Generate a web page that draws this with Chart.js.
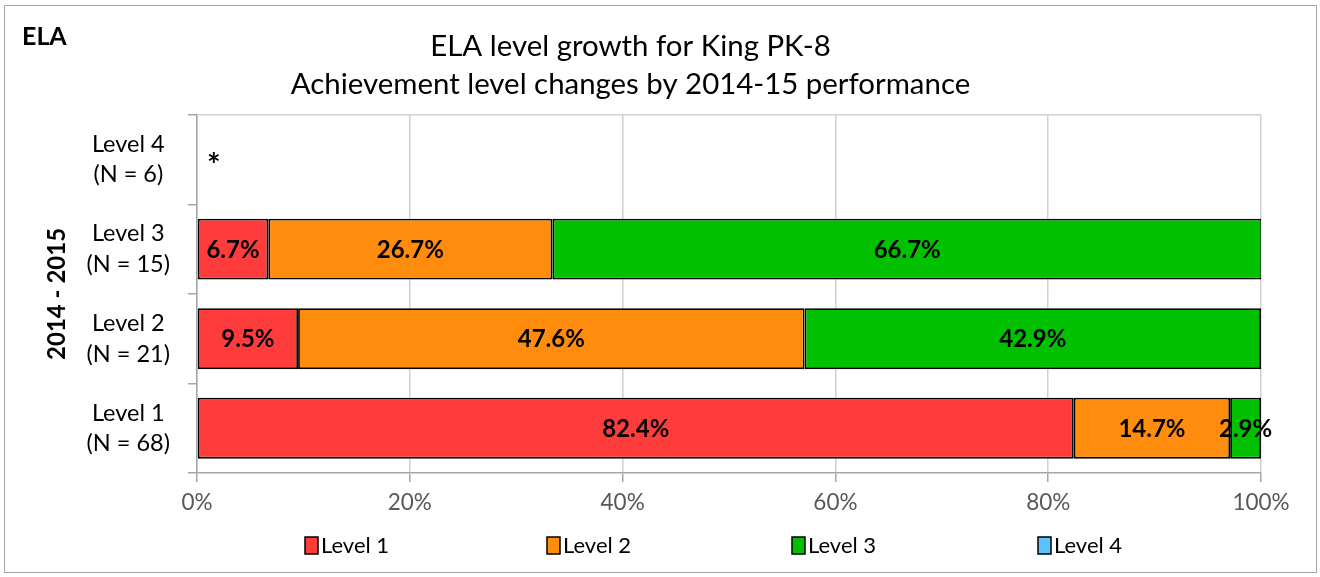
<!DOCTYPE html>
<html>
<head>
<meta charset="utf-8">
<script src="https://cdn.jsdelivr.net/npm/chart.js@4"></script>
<style>
  html, body { margin: 0; padding: 0; background: #fff; }
  #wrap { position: relative; width: 1320px; height: 577px; }
  #frame { position: absolute; left: 4px; top: 5px; width: 1313px; height: 568px; border: 1.5px solid #a6a6a6; box-sizing: border-box; pointer-events: none; }
  #ela { position: absolute; left: 22px; top: 20px; font: bold 25px Lato, "Liberation Sans", sans-serif; color: #000; }
  canvas { position: absolute; left: 0; top: 0; }
</style>
</head>
<body>
<div id="wrap">
  <canvas id="c" width="1320" height="577"></canvas>
  <div id="frame"></div>
  <div id="ela">ELA</div>
</div>
<script>
const categories = [["Level 4", "(N = 6)"], ["Level 3", "(N = 15)"], ["Level 2", "(N = 21)"], ["Level 1", "(N = 68)"]];
const seriesNames = ["Level 1", "Level 2", "Level 3", "Level 4"];
const level1 = [null, 6.7, 9.5, 82.4];
const level2 = [null, 26.7, 47.6, 14.7];
const level3 = [null, 66.7, 42.9, 2.9];
const level4 = [null, null, null, null];
const suppressed = ["*", "", "", ""];
const xTicks = [0, 20, 40, 60, 80, 100];
const colors = ["#FF3C3C", "#FF8C0C", "#00C000", "#5BC3FF"];

const FONT = "Lato, 'Liberation Sans', sans-serif";

const labelPlugin = {
  id: 'barLabels',
  afterDatasetsDraw(chart) {
    const ctx = chart.ctx;
    ctx.save();
    ctx.font = "bold 24px " + FONT;
    ctx.fillStyle = "#000";
    ctx.textAlign = "center";
    ctx.textBaseline = "middle";
    chart.data.datasets.forEach((ds, di) => {
      const meta = chart.getDatasetMeta(di);
      meta.data.forEach((el, i) => {
        const v = ds.data[i];
        if (v === null || v === undefined || v <= 0) return;
        ctx.fillText(v.toFixed(1) + "%", el.x - (el.x - el.base) / 2, el.y + 1);
      });
    });
    const xs = chart.scales.x, ys = chart.scales.y;
    ctx.font = "bold 32px " + FONT;
    suppressed.forEach((s, i) => {
      if (!s) return;
      ctx.textAlign = "left";
      ctx.fillText(s, xs.getPixelForValue(0) + 10, ys.getPixelForValue(i) + 7);
    });
    ctx.restore();
  },
  beforeDatasetsDraw(chart) {
    const ctx = chart.ctx, a = chart.chartArea;
    ctx.save();
    ctx.strokeStyle = "#d0d0d0";
    ctx.lineWidth = 1.5;
    ctx.beginPath();
    ctx.moveTo(a.left, a.top);
    ctx.lineTo(a.right, a.top);
    ctx.stroke();
    ctx.restore();
  },
  afterDraw(chart) {
    const ctx = chart.ctx;
    const starts = [305, 547, 792, 1038];
    const y = 545;
    ctx.save();
    ctx.font = "22px " + FONT;
    ctx.textBaseline = "middle";
    ctx.textAlign = "left";
    chart.data.datasets.forEach((ds, i) => {
      const x = starts[i];
      ctx.fillStyle = ds.backgroundColor;
      ctx.fillRect(x, y - 8, 13, 17);
      ctx.strokeStyle = "#000";
      ctx.lineWidth = 1.5;
      ctx.strokeRect(x, y - 8, 13, 17);
      ctx.fillStyle = "#000";
      ctx.fillText(ds.label, x + 16, y + 1);
    });
    ctx.restore();
  }
};

const datasets = [level1, level2, level3, level4].map((d, i) => ({
  label: seriesNames[i],
  data: d,
  backgroundColor: colors[i],
  borderColor: "#000",
  borderWidth: 1.8,
  borderSkipped: false,
  categoryPercentage: 0.68,
  barPercentage: 1.0
}));

new Chart(document.getElementById("c"), {
  type: "bar",
  data: { labels: categories, datasets },
  plugins: [labelPlugin],
  options: {
    indexAxis: "y",
    responsive: false,
    animation: false,
    devicePixelRatio: 1,
    layout: { padding: { left: 0, right: 59, top: 0, bottom: 54 } },
    plugins: {
      legend: { display: false },
      tooltip: { enabled: false },
      title: {
        display: true,
        text: ["ELA level growth for King PK-8", "Achievement level changes by 2014-15 performance"],
        font: { family: FONT, size: 29.4, weight: "normal", lineHeight: 1.29 },
        color: "#000",
        padding: { top: 28, bottom: 11 }
      }
    },
    scales: {
      x: {
        stacked: true,
        min: 0, max: 100,
        afterBuildTicks(scale) { scale.ticks = xTicks.map(v => ({ value: v })); },
        afterFit(scale) { scale.height = 50; },
        ticks: {
          callback: v => v + "%",
          font: { family: FONT, size: 22.5 },
          color: "#595959",
          padding: 7,
          maxRotation: 0
        },
        grid: { color: "#d0d0d0", lineWidth: 1.5, tickLength: 9, tickColor: "#a6a6a6" },
        border: { color: "#a6a6a6", width: 1.5 }
      },
      y: {
        stacked: true,
        afterFit(scale) { scale.width = 197; },
        ticks: {
          font: { family: FONT, size: 23.5, lineHeight: 1.3 },
          color: "#000",
          crossAlign: "center",
          padding: 18
        },
        grid: { drawOnChartArea: false, offset: true, tickLength: 9, color: "#a6a6a6", lineWidth: 1.5 },
        border: { color: "#a6a6a6", width: 1.5 },
        title: {
          display: true,
          text: "2014 - 2015",
          font: { family: FONT, size: 24, weight: "bold" },
          color: "#000",
          padding: { top: 43, bottom: 0 }
        }
      }
    }
  }
});
</script>
</body>
</html>
